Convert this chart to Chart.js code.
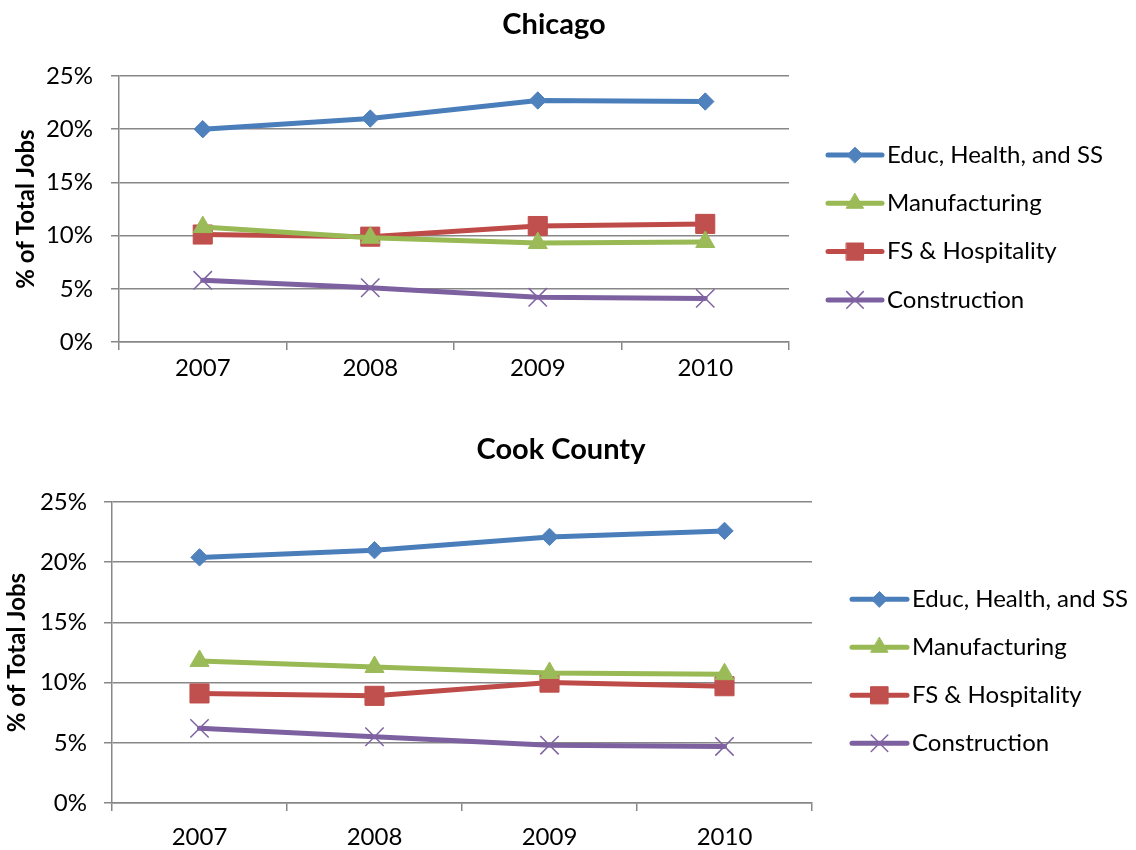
<!DOCTYPE html>
<html>
<head>
<meta charset="utf-8">
<title>Share of Total Jobs by Industry</title>
<script src="https://cdn.jsdelivr.net/npm/chart.js@4.4.1/dist/chart.umd.min.js"></script>
<style>
  html, body { margin: 0; padding: 0; background: #fff; }
  .panel { position: absolute; left: 0; width: 1136px; height: 425px; }
  #panel-chicago { top: 0; }
  #panel-cook { top: 425px; }
</style>
</head>
<body>
<div class="panel" id="panel-chicago"><canvas id="chart-chicago"></canvas></div>
<div class="panel" id="panel-cook"><canvas id="chart-cook"></canvas></div>
<script>
const years = ['2007', '2008', '2009', '2010'];
const seriesNames = ['Educ, Health, and SS', 'Manufacturing', 'FS & Hospitality', 'Construction'];
const yTicks = [0, 5, 10, 15, 20, 25];

// Chicago, % of total jobs
const chicagoEduc = [20.0, 21.0, 22.7, 22.6];
const chicagoManuf = [10.8, 9.8, 9.3, 9.4];
const chicagoFS = [10.1, 9.9, 10.9, 11.1];
const chicagoConstr = [5.8, 5.1, 4.2, 4.1];

// Cook County, % of total jobs
const cookEduc = [20.4, 21.0, 22.1, 22.6];
const cookManuf = [11.8, 11.3, 10.8, 10.7];
const cookFS = [9.1, 8.9, 10.0, 9.7];
const cookConstr = [6.2, 5.5, 4.8, 4.7];

const FONT = 'Lato';
const GRID = '#878787';
const TEXT_SIZE = 24;

Chart.defaults.font.family = FONT;
Chart.defaults.color = '#000';

// line colour, marker fill, marker shape, marker radius, marker stroke
const seriesStyles = [
  { line: '#4A7EBB', fill: '#4F81BD', shape: 'rectRot', r: 8.7, bw: 1 },
  { line: '#98B954', fill: '#9BBB59', shape: 'triangle', r: 11, bw: 1 },
  { line: '#BE4B48', fill: '#C0504D', shape: 'rect', r: 13.5, bw: 1 },
  { line: '#7D60A0', fill: '#8064A2', shape: 'crossRot', r: 13, bw: 1.5 }
];

function buildDatasets(valueLists) {
  return valueLists.map((values, i) => {
    const s = seriesStyles[i];
    return {
      label: seriesNames[i],
      data: values,
      borderColor: s.line,
      borderWidth: 5,
      borderCapStyle: 'round',
      borderJoinStyle: 'round',
      tension: 0,
      pointStyle: s.shape,
      pointRadius: s.r,
      pointHoverRadius: s.r,
      pointBackgroundColor: s.fill,
      pointBorderColor: s.fill,
      pointBorderWidth: s.bw
    };
  });
}

// title above the plot and a legend of line+marker samples on the right
const sideLegend = {
  id: 'sideLegend',
  afterDraw(chart, args, opts) {
    const ctx = chart.ctx;
    ctx.save();
    ctx.fillStyle = '#000';
    ctx.textAlign = 'center';
    ctx.textBaseline = 'middle';
    ctx.font = `bold 29px ${FONT}`;
    ctx.fillText(opts.title, opts.titleX, opts.titleY);

    ctx.font = `${TEXT_SIZE}px ${FONT}`;
    ctx.textAlign = 'left';
    chart.data.datasets.forEach((ds, i) => {
      const y = opts.top + i * opts.rowGap;
      ctx.strokeStyle = ds.borderColor;
      ctx.lineWidth = ds.borderWidth;
      ctx.lineCap = 'round';
      ctx.beginPath();
      ctx.moveTo(opts.lineFrom, y);
      ctx.lineTo(opts.lineTo, y);
      ctx.stroke();

      // legend markers are a touch smaller than the plotted ones
      ctx.fillStyle = ds.pointBackgroundColor;
      ctx.strokeStyle = ds.pointBorderColor;
      ctx.lineWidth = ds.pointBorderWidth;
      Chart.helpers.drawPoint(ctx, {
        pointStyle: ds.pointStyle,
        radius: ds.pointRadius * 0.9,
        rotation: 0,
        borderWidth: ds.pointBorderWidth
      }, (opts.lineFrom + opts.lineTo) / 2, y);

      ctx.fillStyle = '#000';
      ctx.fillText(ds.label, opts.textX, y);
    });
    ctx.restore();
  }
};

function makeChart(canvasId, valueLists, box) {
  const ctx = document.getElementById(canvasId).getContext('2d');
  return new Chart(ctx, {
    type: 'line',
    data: { labels: years, datasets: buildDatasets(valueLists) },
    plugins: [sideLegend],
    options: {
      responsive: true,
      maintainAspectRatio: false,
      animation: false,
      events: [],
      layout: { padding: box.padding },
      plugins: {
        legend: { display: false },
        title: { display: false },
        tooltip: { enabled: false },
        sideLegend: box.legend
      },
      scales: {
        x: {
          type: 'category',
          offset: true,
          afterFit: s => { s.height = box.xHeight; },
          grid: {
            offset: true,
            drawOnChartArea: false,
            drawTicks: true,
            tickLength: 8,
            color: GRID,
            lineWidth: 1.5
          },
          border: { display: true, color: GRID, width: 1.5 },
          ticks: { font: { size: TEXT_SIZE }, color: '#000', padding: box.xPad, maxRotation: 0 }
        },
        y: {
          min: 0,
          max: 25,
          afterFit: s => { s.width = box.yWidth; },
          afterBuildTicks: s => { s.ticks = yTicks.map(v => ({ value: v })); },
          grid: { color: GRID, lineWidth: 1.5, drawTicks: true, tickLength: 8 },
          border: { display: true, color: GRID, width: 1.5 },
          ticks: {
            font: { size: TEXT_SIZE },
            color: '#000',
            padding: box.yPad,
            callback: v => v + '%'
          },
          title: {
            display: true,
            text: '% of Total Jobs',
            font: { size: TEXT_SIZE, weight: 'bold' },
            color: '#000',
            padding: { top: box.titlePad, bottom: 0 }
          }
        }
      }
    }
  });
}

makeChart('chart-chicago', [chicagoEduc, chicagoManuf, chicagoFS, chicagoConstr], {
  padding: { left: 0, top: 76, right: 347, bottom: 13 },
  xHeight: 70,
  yWidth: 119,
  xPad: 3.6,
  yPad: 18,
  titlePad: 11.6,
  legend: {
    title: 'Chicago', titleX: 554, titleY: 25,
    top: 155, rowGap: 48.3, lineFrom: 828, lineTo: 882, textX: 887
  }
});

makeChart('chart-cook', [cookEduc, cookManuf, cookFS, cookConstr], {
  padding: { left: 0, top: 77, right: 324, bottom: 0 },
  xHeight: 47,
  yWidth: 112,
  xPad: 12.3,
  yPad: 17,
  titlePad: 3.1,
  legend: {
    title: 'Cook County', titleX: 561, titleY: 25,
    top: 174.3, rowGap: 48, lineFrom: 852, lineTo: 907, textX: 912
  }
});
</script>
</body>
</html>
